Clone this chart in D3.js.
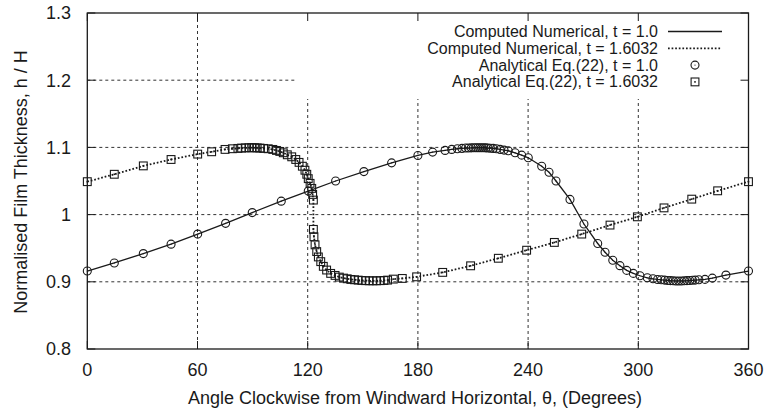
<!DOCTYPE html>
<html><head><meta charset="utf-8">
<script src="https://cdn.jsdelivr.net/npm/d3@7"></script>
<style>
body{margin:0;background:#fff}
svg{display:block}
text{font-family:"Liberation Sans",Arial,Helvetica,sans-serif;fill:#1a1a1a}
</style>
</head><body>
<svg id="chart" width="765" height="411"></svg>
<script>
// ---- data ----
const xTicks = [0, 60, 120, 180, 240, 300, 360];
const yTicks = [0.8, 0.9, 1.0, 1.1, 1.2, 1.3];
const yTickLabels = ["0.8", "0.9", "1", "1.1", "1.2", "1.3"];
const xTitle = "Angle Clockwise from Windward Horizontal, \u03b8, (Degrees)";
const yTitle = "Normalised Film Thickness, h / H";
const legendLabels = [
  "Computed Numerical, t = 1.0",
  "Computed Numerical, t = 1.6032",
  "Analytical Eq.(22), t = 1.0",
  "Analytical Eq.(22), t = 1.6032"
];

// t = 1.0
const theta1 = [0, 14.7, 30.5, 45.6, 60.1, 75.3, 89.8, 105.6, 120.3, 135.2, 150.6, 165.7, 180.0, 188.0, 194.8, 198.4,
  201.5, 204.0, 206.0, 207.5, 209.0, 210.3, 211.5, 212.6, 213.7, 214.8, 215.9, 217.0, 218.2, 219.5, 221.0, 222.8,
  224.8, 226.9, 229.2, 232.9, 236.5, 240.1, 247.4, 251.4, 255.2, 262.8, 270.4, 277.9, 281.9, 286.1, 290.0, 293.7,
  297.3, 300.9, 304.9, 308.0, 310.5, 312.5, 314.3, 316.0, 317.5, 319.0, 320.5, 322.0, 323.5, 325.0, 326.5, 328.0,
  329.5, 331.0, 333.0, 336.3, 340.3, 347.7, 360];
const h1 = [0.916, 0.928, 0.942, 0.956, 0.971, 0.987, 1.003, 1.020, 1.035, 1.050, 1.064, 1.077, 1.088, 1.093, 1.0955, 1.097,
  1.098, 1.0985, 1.099, 1.099, 1.0993, 1.0995, 1.0995, 1.0995, 1.0995, 1.0995, 1.0995, 1.0993, 1.099, 1.0988, 1.0985, 1.098,
  1.097, 1.096, 1.095, 1.092, 1.0885, 1.0845, 1.072, 1.063, 1.050, 1.0226, 0.986, 0.957, 0.944, 0.932, 0.924, 0.917,
  0.9125, 0.909, 0.906, 0.9045, 0.9035, 0.903, 0.9025, 0.902, 0.9017, 0.9015, 0.9013, 0.9013, 0.9013, 0.9015, 0.9017, 0.902,
  0.9022, 0.9025, 0.903, 0.9036, 0.9055, 0.910, 0.916];

// t = 1.6032
const theta2 = [0, 14.7, 30.5, 45.6, 60.1, 67.7, 75.0, 79.0, 82.0, 84.0, 86.0, 88.0, 89.5, 91.0, 92.5, 94.0, 96.0, 98.5,
  101.0, 103.0, 104.8, 106.7, 108.9, 111.3, 113.5, 115.3, 117.1, 118.5, 119.5, 120.3, 121.3, 122.2, 122.7, 123.1,
  123.1, 123.4, 124.0, 124.9, 125.8, 127.1, 128.5, 130.3, 132.5, 134.9, 137.2, 139.5, 141.5, 143.5, 145.5, 147.5,
  149.5, 151.5, 153.5, 155.5, 157.5, 159.5, 161.5, 163.5, 166.6, 171.5, 179.3, 193.5, 208.7, 223.8, 239.2, 254.3,
  269.2, 284.6, 299.5, 314.0, 329.1, 343.2, 360];
const h2 = [1.049, 1.060, 1.0725, 1.082, 1.090, 1.0935, 1.097, 1.098, 1.0985, 1.099, 1.0993, 1.0995, 1.0995, 1.0995, 1.0993, 1.099, 1.0985, 1.098,
  1.097, 1.0955, 1.094, 1.092, 1.089, 1.086, 1.082, 1.0777, 1.072, 1.066, 1.060, 1.0535, 1.0465, 1.039, 1.030, 1.0216,
  0.978, 0.967, 0.955, 0.945, 0.937, 0.930, 0.923, 0.9175, 0.9125, 0.9095, 0.907, 0.9055, 0.9045, 0.9035, 0.903, 0.9025,
  0.902, 0.9017, 0.9015, 0.9015, 0.9015, 0.9017, 0.902, 0.9025, 0.904, 0.905, 0.9074, 0.914, 0.9238, 0.935, 0.947, 0.9586,
  0.971, 0.9844, 0.9967, 1.010, 1.023, 1.0354, 1.049];

// ---- drawing ----
const svg = d3.select("#chart");
const L = 87.3, R = 748.5, T = 13, B = 349;
const x = d3.scaleLinear().domain([0, 360]).range([L, R]);
const y = d3.scaleLinear().domain([0.8, 1.3]).range([B, T]);
const ink = "#1a1a1a";

// grid
const grid = svg.append("g").attr("stroke", "#333").attr("stroke-width", 1).attr("stroke-dasharray", "3,3");
xTicks.filter(d => d > 0 && d < 360).forEach(d => {
  grid.append("line").attr("x1", x(d)).attr("x2", x(d)).attr("y1", y(1.3)).attr("y2", y(0.8));
});
yTicks.filter(d => d > 0.8 && d < 1.3).forEach(d => {
  grid.append("line").attr("x1", x(0)).attr("x2", x(360)).attr("y1", y(d)).attr("y2", y(d));
});
// key area blanks grid
svg.append("rect").attr("x", 297).attr("y", T).attr("width", R - 297).attr("height", 86).attr("fill", "#fff");

// lines
const pts1 = theta1.map((t, i) => [t, h1[i]]);
const pts2 = theta2.map((t, i) => [t, h2[i]]);
const line = d3.line().x(d => x(d[0])).y(d => y(d[1]));
svg.append("path").attr("d", line(pts1)).attr("fill", "none").attr("stroke", ink).attr("stroke-width", 1.3);
svg.append("path").attr("d", line(pts2)).attr("fill", "none").attr("stroke", ink).attr("stroke-width", 1.8)
  .attr("stroke-dasharray", "1.7,1.9");

// markers
function circ(g, cx, cy) {
  g.append("circle").attr("cx", cx).attr("cy", cy).attr("r", 4).attr("fill", "none").attr("stroke", ink).attr("stroke-width", 1.1);
  g.append("circle").attr("cx", cx).attr("cy", cy).attr("r", 0.6).attr("fill", ink);
}
function sq(g, cx, cy) {
  g.append("rect").attr("x", cx - 3.9).attr("y", cy - 3.9).attr("width", 7.8).attr("height", 7.8)
    .attr("fill", "none").attr("stroke", ink).attr("stroke-width", 1.1);
  g.append("rect").attr("x", cx - 0.8).attr("y", cy - 0.8).attr("width", 1.6).attr("height", 1.6).attr("fill", ink);
}
const m1 = svg.append("g");
pts1.forEach(d => circ(m1, x(d[0]), y(d[1])));
const m2 = svg.append("g");
pts2.forEach(d => sq(m2, x(d[0]), y(d[1])));

// border and ticks
svg.append("rect").attr("x", L).attr("y", T).attr("width", R - L).attr("height", B - T)
  .attr("fill", "none").attr("stroke", ink).attr("stroke-width", 1.3);
const tk = svg.append("g").attr("stroke", ink).attr("stroke-width", 1);
const tl = 8;
xTicks.forEach(d => {
  tk.append("line").attr("x1", x(d)).attr("x2", x(d)).attr("y1", B).attr("y2", B - tl);
  tk.append("line").attr("x1", x(d)).attr("x2", x(d)).attr("y1", T).attr("y2", T + tl);
});
yTicks.forEach(d => {
  tk.append("line").attr("x1", L).attr("x2", L + tl).attr("y1", y(d)).attr("y2", y(d));
  tk.append("line").attr("x1", R).attr("x2", R - tl).attr("y1", y(d)).attr("y2", y(d));
});

// tick labels
svg.append("g").selectAll("text").data(xTicks).join("text")
  .attr("x", d => x(d)).attr("y", 376).attr("text-anchor", "middle").attr("font-size", 18).text(d => d);
svg.append("g").selectAll("text").data(yTicks).join("text")
  .attr("x", 71).attr("y", d => y(d) + 6.3).attr("text-anchor", "end").attr("font-size", 18)
  .text((d, i) => yTickLabels[i]);

// titles
svg.append("text").attr("x", 415).attr("y", 404).attr("text-anchor", "middle").attr("font-size", 18).text(xTitle);
svg.append("text").attr("transform", "translate(27,182) rotate(-90)").attr("text-anchor", "middle")
  .attr("font-size", 18).text(yTitle);

// legend
const lg = svg.append("g");
const rowY = [31.5, 48.3, 65.1, 81.9];
legendLabels.forEach((lab, i) => {
  lg.append("text").attr("x", 658).attr("y", rowY[i] + 5.5).attr("text-anchor", "end").attr("font-size", 16).text(lab);
});
lg.append("line").attr("x1", 668).attr("x2", 722).attr("y1", rowY[0]).attr("y2", rowY[0]).attr("stroke", ink).attr("stroke-width", 1.3);
lg.append("line").attr("x1", 668).attr("x2", 722).attr("y1", rowY[1]).attr("y2", rowY[1]).attr("stroke", ink)
  .attr("stroke-width", 1.8).attr("stroke-dasharray", "1.7,1.9");
circ(lg, 695, rowY[2]);
sq(lg, 695, rowY[3]);
</script>
</body></html>
